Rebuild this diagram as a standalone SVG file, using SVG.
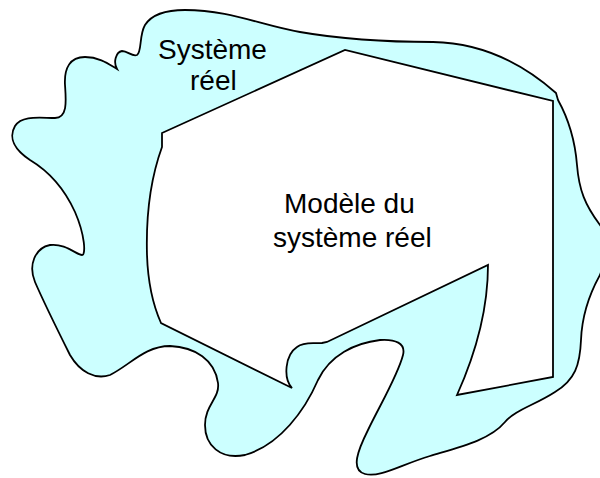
<svg xmlns="http://www.w3.org/2000/svg" width="600" height="478" viewBox="0 0 600 478">
<style>
.lbl{font-family:"Liberation Sans",Arial,sans-serif;font-size:28px;fill:#000}
.shape{fill:#CCFFFF;fill-rule:evenodd;stroke:#000;stroke-width:1.8;stroke-linejoin:miter}
</style>
<rect width="600" height="478" fill="#fff"/>
<g id="systeme-reel">
<path class="shape" d="M 117,69
C 113,62 116,52 122,51
C 128,51 132,57 137,55
C 142,52 139,35 145,25
C 152,14 165,10 185,10
C 230,10 260,25 300,32
C 340,39 380,42 433,42
C 490,43 530,70 556,93
L 558,100
C 568,118 575,140 577,165
C 579,190 585,205 600,225
L 612,240 L 600,275
C 590,293 582,315 581,340
C 580,365 575,380 555,392
C 535,405 515,410 505,422
C 490,440 460,447 430,456
C 400,465 380,478 365,474
C 350,470 358,450 368,430
C 380,405 398,375 403,355
C 406,343 395,339 380,340
C 355,343 330,355 318,380
C 305,410 280,445 245,455
C 220,460 205,445 205,425
C 205,405 220,398 218,383
C 215,360 195,347 170,346
C 145,346 130,365 110,375
C 95,380 80,372 70,355
C 60,335 45,305 35,282
C 28,265 35,248 50,245
C 65,243 77,255 82,255
C 86,255 85,235 75,212
C 65,190 50,172 30,160
C 15,150 8,138 15,126
C 22,115 40,118 55,118
C 68,118 66,100 65,85
C 64,68 70,57 85,57
C 100,57 110,65 117,69 Z
M 292,388
C 283,378 285,355 297,347
C 305,341 315,344 322,343
L 327,342
L 488,265
C 488,310 475,355 457,395
L 553,377
L 553,101
L 345,50
L 162,133
L 162,147
C 150,180 146,220 147,255
C 148,285 153,305 161,323
L 292,388 Z"/>
<text class="lbl" x="158" y="59">Système</text>
<text class="lbl" x="190" y="90">réel</text>
</g>
<g id="modele">
<text class="lbl" x="284" y="213">Modèle du</text>
<text class="lbl" x="273" y="247">système réel</text>
</g>
</svg>
